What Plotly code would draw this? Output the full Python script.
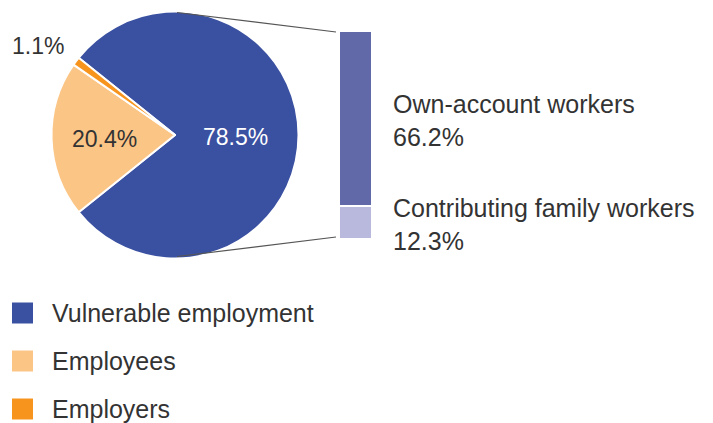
import math
import plotly.graph_objects as go

W, H = 713, 423

# ---- data ----
pie_labels = ["Vulnerable employment", "Employees", "Employers"]
pie_values = [78.5, 20.4, 1.1]
pie_colors = ["#3A50A1", "#FBC586", "#F7941D"]

sub_labels = ["Own-account workers", "Contributing family workers"]
sub_values = [66.2, 12.3]
sub_colors = ["#6169A9", "#B9B9DE"]

FONT = "Liberation Sans"
TXT = "#333333"

# ---- layout geometry (pixels -> paper) ----
def px(x):
    return x / W

def py(y):
    return 1 - y / H

cx, cy, r = 175, 135, 123.5
pie_dom_x = [px(cx - r), px(cx + r)]
pie_dom_y = [py(cy + r), py(cy - r)]

bar_x0, bar_x1 = 339, 372
bar_top, bar_bot = 31, 239

total = sum(pie_values)
first_share = pie_values[0] / total
# centre the first slice on 3 o'clock (plotly rotation = clockwise from 12 o'clock)
rotation = 90 - first_share * 180

fig = go.Figure()

fig.add_trace(go.Pie(
    labels=pie_labels,
    values=pie_values,
    marker=dict(colors=pie_colors, line=dict(color="white", width=2)),
    sort=False,
    direction="clockwise",
    rotation=rotation,
    textinfo="none",
    hoverinfo="none",
    showlegend=False,
    domain=dict(x=pie_dom_x, y=pie_dom_y),
))

# stacked bar: first sub-category on top, so add them bottom-up
for lab, val, col in reversed(list(zip(sub_labels, sub_values, sub_colors))):
    fig.add_trace(go.Bar(
        x=[""], y=[val], name=lab,
        marker=dict(color=col, line=dict(color="white", width=2.5)),
        hoverinfo="none", showlegend=False,
    ))

sub_total = sum(sub_values)

annotations = []
shapes = []

# pie percentage labels, placed along each slice's mid-angle
radius_factor = [0.49, 0.575, 1.33]
angle_offset = [0, 0, 3.0]
label_colors = ["white", TXT, TXT]
start = 90 - rotation  # math angle (deg, ccw from 3 o'clock) of first slice start
acc = 0.0
for i, v in enumerate(pie_values):
    mid = start - (acc + v / 2) / total * 360 + angle_offset[i]
    acc += v
    rr = r * radius_factor[i]
    tx = cx + rr * math.cos(math.radians(mid))
    ty = cy - rr * math.sin(math.radians(mid)) + 2
    annotations.append(dict(
        x=px(tx), y=py(ty), xref="paper", yref="paper",
        text=f"{v:.1f}%", showarrow=False, xanchor="center", yanchor="middle",
        font=dict(family=FONT, size=23, color=label_colors[i]),
    ))

# labels next to the bar segments
acc = 0.0
for lab, val in zip(sub_labels, sub_values):
    mid = sub_total - (acc + val / 2)
    acc += val
    annotations.append(dict(
        x=px(391), y=mid, xref="paper", yref="y",
        text=f"{lab}<br>{val:.1f}%", showarrow=False, xanchor="left", yanchor="middle",
        align="left", yshift=-2,
        font=dict(family=FONT, size=25, color=TXT),
    ))

# connector lines from the pie to the bar
shapes.append(dict(type="line", xref="paper", yref="paper",
                   x0=px(cx + 2), y0=py(cy - r + 1), x1=px(bar_x0 - 3), y1=py(bar_top + 1),
                   line=dict(color="#555555", width=1.2)))
shapes.append(dict(type="line", xref="paper", yref="paper",
                   x0=px(cx + 2), y0=py(cy + r - 2), x1=px(bar_x0 - 3), y1=py(bar_bot - 2),
                   line=dict(color="#555555", width=1.2)))

# legend (manual)
leg_rows = [313, 361, 409]
for lab, col, yc in zip(pie_labels, pie_colors, leg_rows):
    shapes.append(dict(type="rect", xref="paper", yref="paper",
                       x0=px(12), x1=px(33), y0=py(yc - 10.5), y1=py(yc + 10.5),
                       fillcolor=col, line=dict(width=0)))
    annotations.append(dict(
        x=px(50), y=py(yc), xref="paper", yref="paper",
        text=lab, showarrow=False, xanchor="left", yanchor="middle",
        font=dict(family=FONT, size=25, color=TXT),
    ))

fig.update_layout(
    width=W, height=H,
    margin=dict(l=0, r=0, t=0, b=0),
    paper_bgcolor="white", plot_bgcolor="white",
    barmode="stack", bargap=0,
    xaxis=dict(domain=[px(bar_x0), px(bar_x1)], visible=False, fixedrange=True),
    yaxis=dict(domain=[py(bar_bot), py(bar_top)], range=[0, sub_total],
               visible=False, fixedrange=True),
    annotations=annotations,
    shapes=shapes,
    font=dict(family=FONT, color=TXT),
)

fig.write_html("out.html", config=dict(displayModeBar=False),
               post_script="document.body.style.margin='0px';document.body.style.overflow='hidden';")
